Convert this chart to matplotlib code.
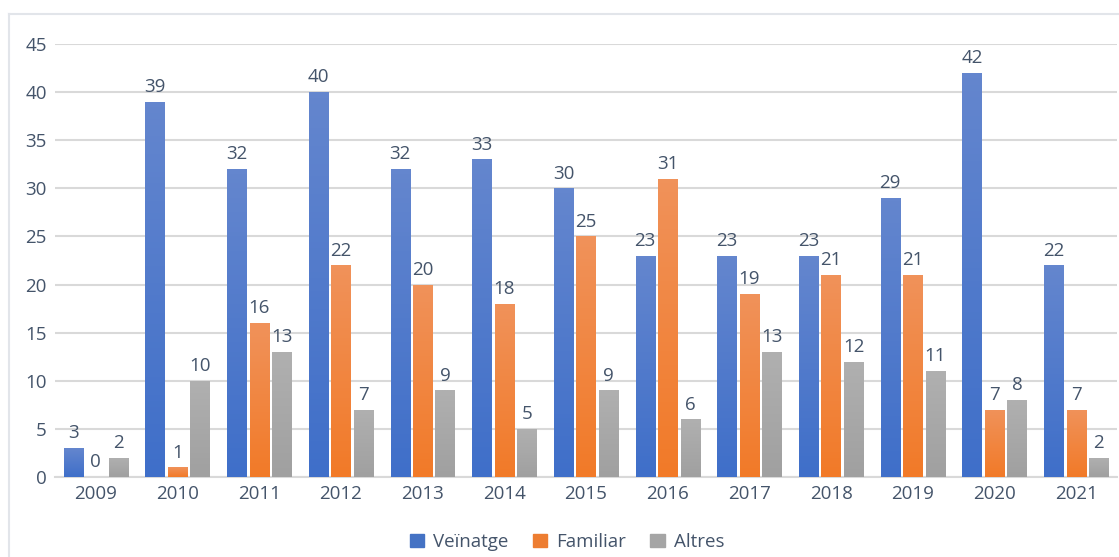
import matplotlib
matplotlib.use("Agg")
import matplotlib.pyplot as plt
import numpy as np
from matplotlib.colors import LinearSegmentedColormap
from matplotlib.patches import Rectangle
from matplotlib.lines import Line2D

plt.rcParams['font.family'] = ['Open Sans', 'DejaVu Sans']

years = ['2009', '2010', '2011', '2012', '2013', '2014', '2015', '2016',
         '2017', '2018', '2019', '2020', '2021']
veinatge = [3, 39, 32, 40, 32, 33, 30, 23, 23, 23, 29, 42, 22]
familiar = [0, 1, 16, 22, 20, 18, 25, 31, 19, 21, 21, 7, 7]
altres = [2, 10, 13, 7, 9, 5, 9, 6, 13, 12, 11, 8, 2]
series_names = ['Veïnatge', 'Familiar', 'Altres']
y_ticks = [0, 5, 10, 15, 20, 25, 30, 35, 40, 45]

base_colors = ['#4472C4', '#ED7D31', '#A5A5A5']
grad = [('#6486CE', '#3F6FC9'), ('#F0925A', '#F27A28'), ('#B0B0B0', '#A0A0A0')]
text_color = '#44546A'
grid_color = '#D9D9D9'
fs = 13.5

W, H = 1119, 557
fig = plt.figure(figsize=(W / 100, H / 100), dpi=100)
ax = fig.add_axes([55 / W, 1 - 477 / H, (1117 - 55) / W, (477 - 44) / H])

x = np.arange(len(years))
bw = 0.235
offs = [-0.275, 0, 0.275]
all_series = [veinatge, familiar, altres]

for s, (vals, off) in enumerate(zip(all_series, offs)):
    bars = ax.bar(x + off, vals, bw, color=base_colors[s], zorder=2,
                  label=series_names[s])
    cmap = LinearSegmentedColormap.from_list('g%d' % s, [grad[s][1], grad[s][0]])
    for b, v in zip(bars, vals):
        if v > 0:
            x0 = b.get_x()
            im = ax.imshow(np.linspace(0, 1, 64).reshape(-1, 1), cmap=cmap,
                           origin='lower', aspect='auto',
                           extent=(x0, x0 + b.get_width(), 0, v), zorder=3)
            im.set_clip_path(b)
        ax.annotate(str(v), (b.get_x() + b.get_width() / 2, v),
                    xytext=(0, 7), textcoords='offset points',
                    ha='center', va='baseline', fontsize=fs, color=text_color,
                    zorder=4)

ax.set_xlim(-0.5, len(years) - 0.5)
ax.set_ylim(0, 45)
ax.set_yticks(y_ticks)
ax.set_xticks(x)
ax.set_xticklabels(years)
ax.tick_params(axis='both', length=0, labelsize=fs, labelcolor=text_color)
ax.tick_params(axis='y', pad=6)
ax.tick_params(axis='x', pad=6)
ax.yaxis.grid(True, color=grid_color, linewidth=1.5, zorder=0)
ax.set_axisbelow(True)
for sp in ['top', 'right', 'left']:
    ax.spines[sp].set_visible(False)
ax.spines['bottom'].set_color(grid_color)
ax.spines['bottom'].set_linewidth(1.5)

# chart frame (partially cropped)
fig.add_artist(Line2D([8.5 / W, 8.5 / W], [0, 1 - 13.5 / H],
                      transform=fig.transFigure, color='#E2E5EA', linewidth=1.5))
fig.add_artist(Line2D([8.5 / W, 1], [1 - 13.5 / H, 1 - 13.5 / H],
                      transform=fig.transFigure, color='#E2E5EA', linewidth=1.5))

handles = [Rectangle((0, 0), 1, 1, color=c) for c in base_colors]
fig.legend(handles, series_names, loc='center', ncol=3,
           bbox_to_anchor=(567 / W, 1 - 542 / H), frameon=False,
           fontsize=fs, labelcolor=text_color, handlelength=0.75,
           handleheight=0.75, handletextpad=0.5, columnspacing=1.3)

fig.savefig('out.png', dpi=100, facecolor='white')
